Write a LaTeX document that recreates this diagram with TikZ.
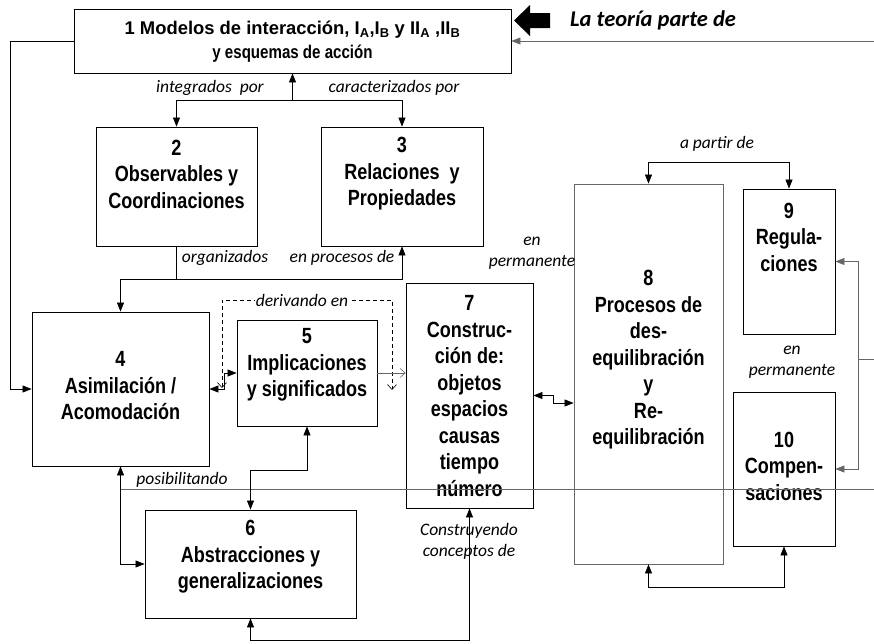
\documentclass[tikz,border=0pt]{standalone}
\usepackage{fontspec}
\setmainfont{Liberation Sans}[FakeStretch=0.82]
\newfontfamily\anchafont{Liberation Sans}
\newfontfamily\notafont{Carlito}
\usetikzlibrary{arrows.meta}
\tikzset{
  caja/.style={draw, line width=0.8pt, inner sep=0pt},
  texto/.style={font=\bfseries\fontsize{22}{26.5}\selectfont, align=center, inner sep=0pt},
  nota/.style={font=\notafont\itshape\fontsize{17.5}{21}\selectfont, align=center, inner sep=1pt},
  linea/.style={line width=0.7pt},
  gris/.style={draw=black!60},
  flecha/.style={-{Triangle[length=9pt,width=7pt]}, line width=0.7pt},
  doble/.style={{Triangle[length=9pt,width=7pt]}-{Triangle[length=9pt,width=7pt]}, line width=0.7pt},
  abierta/.style={-{Straight Barb[length=5pt,width=9pt]}, line width=0.6pt},
  punteada/.style={{Straight Barb[length=5pt,width=9pt]}-{Straight Barb[length=5pt,width=9pt]}, line width=0.6pt, dash pattern=on 4pt off 3pt},
}
\begin{document}
\begin{tikzpicture}[x=1pt,y=-1pt]
\useasboundingbox (0,0) rectangle (874,643);

\node[caja, minimum width=437pt, minimum height=64pt] (b1) at (292.5,41) {};
\node[caja, minimum width=161pt, minimum height=119pt] (b2) at (176.5,186.5) {};
\node[caja, minimum width=162pt, minimum height=119pt] (b3) at (402,186.5) {};
\node[caja, minimum width=177pt, minimum height=154pt] (b4) at (120.5,389) {};
\node[caja, minimum width=140pt, minimum height=106pt] (b5) at (307,373) {};
\node[caja, minimum width=211pt, minimum height=108pt] (b6) at (250.5,564) {};
\node[caja, minimum width=127pt, minimum height=225pt] (b7) at (469.5,395.5) {};
\node[caja, gris, minimum width=149pt, minimum height=380pt] (b8) at (648.5,374) {};
\node[caja, minimum width=92pt, minimum height=145pt] (b9) at (789,261.5) {};
\node[caja, minimum width=102pt, minimum height=154pt] (b10) at (784,469) {};

\node[texto, font=\bfseries\fontsize{18.4}{24}\selectfont] (t1) at (292.5,42) {{\anchafont 1 Modelos de interacción, I\textsubscript{A},I\textsubscript{B} y II\textsubscript{A} ,II\textsubscript{B}}\\y esquemas de acción};
\node[texto] (t2) at (176.5,174) {2\\Observables y\\Coordinaciones};
\node[texto] (t3) at (402,174) {3\\Relaciones~ y\\Propiedades};
\node[texto] (t4) at (120.5,386) {4\\Asimilación /\\Acomodación};
\node[texto] (t5) at (307,365) {5\\Implicaciones\\y significados};
\node[texto] (t6) at (250.5,557) {6\\Abstracciones y\\generalizaciones};
\node[texto] (t7) at (469.5,396) {7\\Construc-\\ción de:\\objetos\\espacios\\causas\\tiempo\\número};
\node[texto] (t8) at (648.5,360) {8\\Procesos de\\des-\\equilibración\\y\\Re-\\equilibración};
\node[texto] (t9) at (789,237) {9\\Regula-\\ciones};
\node[texto] (t10) at (784,466) {10\\Compen-\\saciones};

\fill (514,20.5) -- (530,5) -- (530,13) -- (550,13) -- (550,28) -- (530,28) -- (530,36) -- cycle;
\node[font=\notafont\bfseries\itshape\fontsize{22.5}{26}\selectfont, anchor=west, inner sep=0pt] (lt) at (570,20) {La teoría parte de};

\node[nota] (l1) at (210,88) {integrados~ por};
\node[nota] (l2) at (394,88) {caracterizados por};
\node[nota] (l3) at (225,258) {organizados};
\node[nota] (l4) at (342,258) {en procesos de};
\node[nota] (l6) at (532,253) {en\\permanente};
\node[nota] (l7) at (717,144) {a partir de};
\node[nota] (l8) at (792,362) {en\\permanente};
\node[nota] (l9) at (182,480) {posibilitando};
\node[nota] (l10) at (469,541) {Construyendo\\conceptos de};

\coordinate (j1) at (292.5,100);
\draw[flecha] (j1) -- (b1.south);
\draw[flecha] (j1) -| (b2.north);
\draw[flecha] (j1) -| (b3.north);

\coordinate (j2) at (176.5,279);
\draw[linea] (b2.south) -- (j2);
\draw[flecha] (j2) -| (b3.south);
\draw[flecha] (j2) -| (b4.north);

\coordinate (e1) at (874,41);
\draw[flecha, gris] (e1) -- (b1.east);
\draw[flecha] (b1.west) -- (10,41) |- (b4.west);

\draw[doble] (b4.east) -- (224,389) |- (b5.west);
\coordinate (d1) at (222,388);
\coordinate (d2) at (392,390);
\draw[punteada] (d1) -- (222,300) -- (392,300) -- (d2);
\node[nota, fill=white] (l5) at (302,300) {derivando en};
\draw[abierta, gris] (b5.east) -- (b7.west |- b5.east);
\draw[doble] (b7.east) -- (553,395.5) -- (553,403) -- (b8.west |- 0,403);

\draw[doble] (b8.north) -- (648.5,162) -| (b9.north);
\draw[doble, gris] (b9.east) -- (858,261.5) |- (b10.east);
\coordinate (e3) at (874,359);
\draw[linea, gris] (e3) -- (858,359);
\draw[doble] (b8.south) -- (648.5,587) -| (b10.south);

\coordinate (e2) at (874,489);
\coordinate (j3) at (120.5,489);
\draw[linea, gris] (e2) -- (j3);
\draw[flecha] (j3) -- (b4.south);
\draw[flecha] (j3) |- (b6.west);

\draw[doble] (b5.south) -- (307,470) -| (b6.north);
\draw[doble] (b6.south) -- (250.5,640) -| (b7.south);
\end{tikzpicture}
\end{document}
